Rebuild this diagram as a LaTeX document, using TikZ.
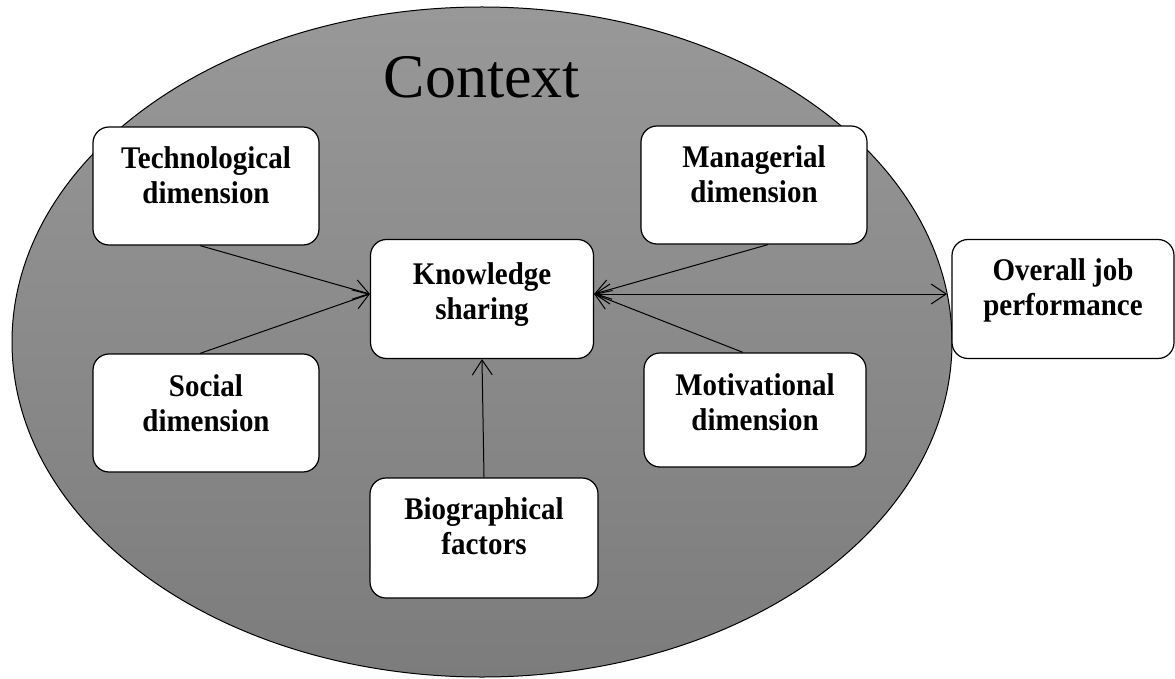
\documentclass[tikz,border=0pt]{standalone}
\usepackage{fontspec}
\setmainfont{Liberation Serif}
\newfontfamily\boxfont{Liberation Serif}[FakeStretch=0.92]
\usetikzlibrary{arrows.meta}
\definecolor{ctxtop}{RGB}{152,152,152}
\definecolor{ctxbot}{RGB}{124,124,124}
\begin{document}
\begin{tikzpicture}[x=1pt,y=-1pt,
  box/.style={draw=black, line width=1.2pt, fill=white, rounded corners=16pt,
    align=center, inner sep=0pt, font=\boxfont\fontsize{31.5}{35}\selectfont\bfseries,
    text height=77pt, text depth=41pt, minimum width=226pt, minimum height=118pt},
  conn/.style={line width=1pt, -{Straight Barb[length=15pt,width=20pt]}},
  dconn/.style={line width=1pt, {Straight Barb[length=15pt,width=20pt]}-{Straight Barb[length=15pt,width=20pt]}}]
\useasboundingbox (0,0) rectangle (1175,679);
\shade[top color=ctxtop, bottom color=ctxbot, draw=black, line width=1pt]
  (482,342) ellipse [x radius=470pt, y radius=335pt];
\node[font=\fontsize{62}{62}\selectfont] (ctx) at (482,77) {Context};
\node[box] (tech) at (206,186) {Technological\\dimension};
\node[box, minimum width=223pt, text height=80pt, text depth=39pt] (ks) at (482,299) {Knowledge\\sharing};
\node[box] (mgr) at (754,185) {Managerial\\dimension};
\node[box] (soc) at (206,413) {Social\\dimension};
\node[box, minimum width=222pt, minimum height=114pt, text height=77pt, text depth=37pt] (mot) at (755,410) {Motivational\\dimension};
\node[box, minimum width=228pt, text height=76pt, text depth=44pt] (bio) at (484,538) {Biographical\\factors};
\node[box, minimum width=222pt, text height=76pt, text depth=43pt] (ojp) at (1063,299) {Overall job\\performance};
\coordinate (ksw) at ([yshift=5pt]ks.west);
\coordinate (kse) at ([yshift=5pt]ks.east);
\coordinate (ctxedge) at (947,294);
\draw[conn] ([xshift=-6pt]tech.south) -- (ksw);
\draw[conn] ([xshift=-6pt]soc.north) -- (ksw);
\draw[conn] ([xshift=14pt]mgr.south) -- (kse);
\draw[conn] ([xshift=-12pt]mot.north) -- (kse);
\draw[conn] (bio.north) -- (ks.south);
\draw[dconn] (kse) -- (ctxedge);
\end{tikzpicture}
\end{document}
